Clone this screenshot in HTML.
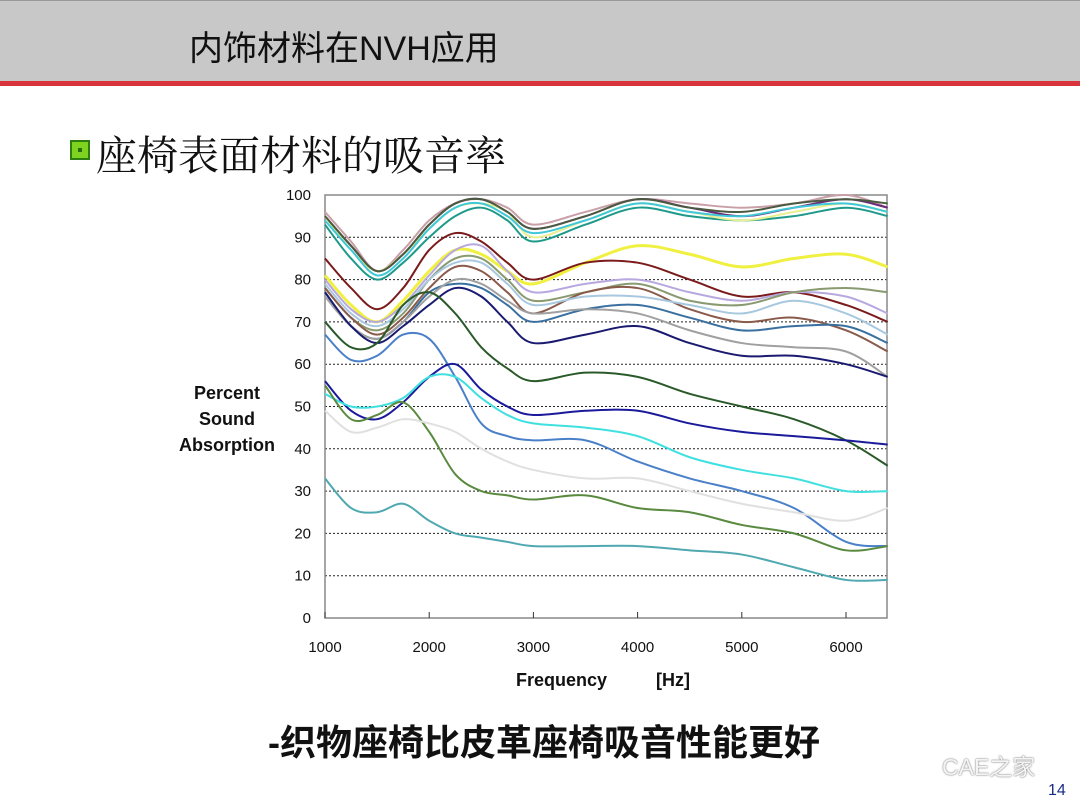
<!DOCTYPE html>
<html><head><meta charset="utf-8">
<style>
body{margin:0;width:1080px;height:810px;background:#fff;position:relative;overflow:hidden;font-family:"Liberation Sans","Noto Sans CJK SC",sans-serif}
#hdr{position:absolute;left:0;top:0;width:1080px;height:81px;background:#c8c8c8;border-top:1px solid #999}
#red{position:absolute;left:0;top:81px;width:1080px;height:5px;background:#d9343c}
#title{position:absolute;left:189px;top:21px;font-size:34px;color:#111;white-space:nowrap}
#bullet{position:absolute;left:70px;top:140px;width:16px;height:16px;background:#7ed321;border:2px solid #2e7d10}
#bullet:after{content:"";position:absolute;left:6px;top:6px;width:4px;height:4px;background:#2e6a10}
#sub{position:absolute;left:96px;top:123px;font-size:41px;color:#111;white-space:nowrap;font-family:"Noto Serif CJK SC",serif}
#concl{position:absolute;left:268px;top:714px;font-size:36px;font-weight:bold;color:#111;white-space:nowrap}
#wm{position:absolute;left:942px;top:748px;font-size:23px;color:#f4f4f4;text-shadow:0 0 1px #777,0 0 2px #999;white-space:nowrap}
#pg{position:absolute;left:1048px;top:782px;font-size:16px;color:#1a2a8a}
</style></head><body>
<div id="hdr"></div>
<div id="red"></div>
<div id="title">内饰材料在NVH应用</div>
<div id="bullet"></div>
<div id="sub">座椅表面材料的吸音率</div>
<svg id="chart" width="1080" height="810" style="position:absolute;left:0;top:0"></svg>
<div id="concl">-织物座椅比皮革座椅吸音性能更好</div>
<div id="wm">CAE之家</div>
<div id="pg">14</div>
<script>
const freqs=[1000,1250,1500,1750,2000,2250,2500,2750,3000,3500,4000,4500,5000,5500,6000,6400];
const xTicks=[1000,2000,3000,4000,5000,6000];
const yTicks=[0,10,20,30,40,50,60,70,80,90,100];
const seriesNames=["rosy","purple","teal","paleyellow","darkgraygreen","cyan1","yellow","darkred","lavender","olivegray","brown","lightblue","steelblue","gray","navy","darkgreen","medblue","navy2","cyan2","olive","lightgray","tealbottom"];
const seriesColors=["#c9a0a8","#6a2a7a","#1f9a8a","#e8f090","#4a5a40","#40c8d8","#f0f040","#7a1a1a","#b8a8e0","#8a9a70","#8a5a4a","#a8c8e0","#3a70a0","#a0a0a0","#1a1a70","#2a5a2a","#4a80c8","#1a1a9a","#40e0e0","#5a8a40","#e0e0e0","#50a8b0"];
const s0=[96,89,82,87,94,98,99,97,93,96,99,98,97,98,100,97];
const s1=[95,88,82,86,93,98,99,96,92,95,99,97,95,97,99,97];
const s2=[93,85,80,84,90,95,97,94,89,93,97,95,94,95,97,95];
const s3=[95,87,82,86,92,97,98,96,90,94,98,96,94,96,98,96];
const s4=[95,88,82,86,93,98,99,96,92,95,99,97,96,98,99,98];
const s5=[94,87,81,85,92,97,98,95,91,94,98,96,95,97,98,96];
const s6=[81,74,70,75,82,87,86,82,79,84,88,86,83,85,86,83];
const s7=[85,78,73,78,87,91,89,84,80,84,84,80,76,77,74,70];
const s8=[80,73,70,74,81,87,88,82,77,79,80,77,75,77,76,72];
const s9=[78,71,68,72,80,85,85,80,75,77,79,75,74,77,78,77];
const s10=[78,71,67,71,78,83,82,77,72,77,78,73,70,71,68,63];
const s11=[79,72,69,73,80,84,84,79,74,76,76,74,72,75,72,67];
const s12=[77,69,66,70,77,79,78,74,70,73,74,71,68,69,69,65];
const s13=[76,69,66,70,76,80,79,75,72,73,72,68,65,64,63,57];
const s14=[77,69,65,69,74,78,76,70,65,67,69,65,62,62,60,57];
const s15=[70,64,65,74,77,72,64,59,56,58,57,53,50,47,42,36];
const s16=[67,61,62,67,66,57,46,43,42,42,37,33,30,26,18,17];
const s17=[56,49,47,51,57,60,54,50,48,49,49,46,44,43,42,41];
const s18=[53,50,50,52,57,57,52,48,46,45,43,38,35,33,30,30];
const s19=[55,47,48,51,44,34,30,29,28,29,26,25,22,20,16,17];
const s20=[49,44,45,47,46,44,40,37,35,33,33,30,27,25,23,26];
const s21=[33,26,25,27,23,20,19,18,17,17,17,16,15,12,9,9];
const seriesValues=[s0,s1,s2,s3,s4,s5,s6,s7,s8,s9,s10,s11,s12,s13,s14,s15,s16,s17,s18,s19,s20,s21];

const NS="http://www.w3.org/2000/svg";
const svg=document.getElementById('chart');
const X0=325,X1=887,Y0=618,Y1=195;
const xs=f=>X0+(f-1000)*(846-325)/5000;
const ys=v=>Y0-v*(Y0-Y1)/100;
function mk(t,a,p){const e=document.createElementNS(NS,t);for(const k in a)e.setAttribute(k,a[k]);(p||svg).appendChild(e);return e;}
yTicks.forEach(v=>{
 if(v>0&&v<100){const g=mk('line',{x1:X0,x2:X1,y1:ys(v),y2:ys(v),stroke:'#222','stroke-dasharray':'2,2','stroke-width':1});
 
 }
 const t=mk('text',{x:X0-14,y:ys(v)+5,'text-anchor':'end','font-size':15,fill:'#111','font-family':'Liberation Sans, sans-serif'});t.textContent=v;
 
 
});
const frame=mk('rect',{x:X0,y:Y1,width:X1-X0,height:Y0-Y1,fill:'none',stroke:'#888','stroke-width':1.5});


xTicks.forEach(f=>{
 const l=mk('line',{x1:xs(f),x2:xs(f),y1:Y0,y2:Y0-6,stroke:'#333'});
 
 
 const t=mk('text',{x:xs(f),y:Y0+34,'text-anchor':'middle','font-size':15,fill:'#111','font-family':'Liberation Sans, sans-serif'});t.textContent=f;
 
 
});
function pathFor(vals){
 const P=vals.map((v,i)=>[xs(freqs[i]),ys(v)]);
 let d='M'+P[0][0]+','+P[0][1];
 for(let i=0;i<P.length-1;i++){
  const p0=P[Math.max(0,i-1)],p1=P[i],p2=P[i+1],p3=P[Math.min(P.length-1,i+2)];
  const c1=[p1[0]+(p2[0]-p0[0])/6,p1[1]+(p2[1]-p0[1])/6],c2=[p2[0]-(p3[0]-p1[0])/6,p2[1]-(p3[1]-p1[1])/6];
  d+=' C'+c1+' '+c2+' '+p2;
 }
 return d;
}
seriesValues.forEach((vals,i)=>{
 const p=mk('path',{d:pathFor(vals),fill:'none',stroke:seriesColors[i],'stroke-width':seriesNames[i]==='yellow'?3:2});
 
 
});
const lab=['Percent','Sound','Absorption'];
lab.forEach((s,i)=>{const t=mk('text',{x:227,y:399+i*26,'text-anchor':'middle','font-size':18,'font-weight':'bold',fill:'#111','font-family':'Liberation Sans, sans-serif'});t.textContent=s;
 
 });
const xt=mk('text',{x:516,y:686,'font-size':18,'font-weight':'bold',fill:'#111','font-family':'Liberation Sans, sans-serif'});xt.textContent='Frequency';


const xu=mk('text',{x:656,y:686,'font-size':18,'font-weight':'bold',fill:'#111','font-family':'Liberation Sans, sans-serif'});xu.textContent='[Hz]';


</script>
</body></html>
